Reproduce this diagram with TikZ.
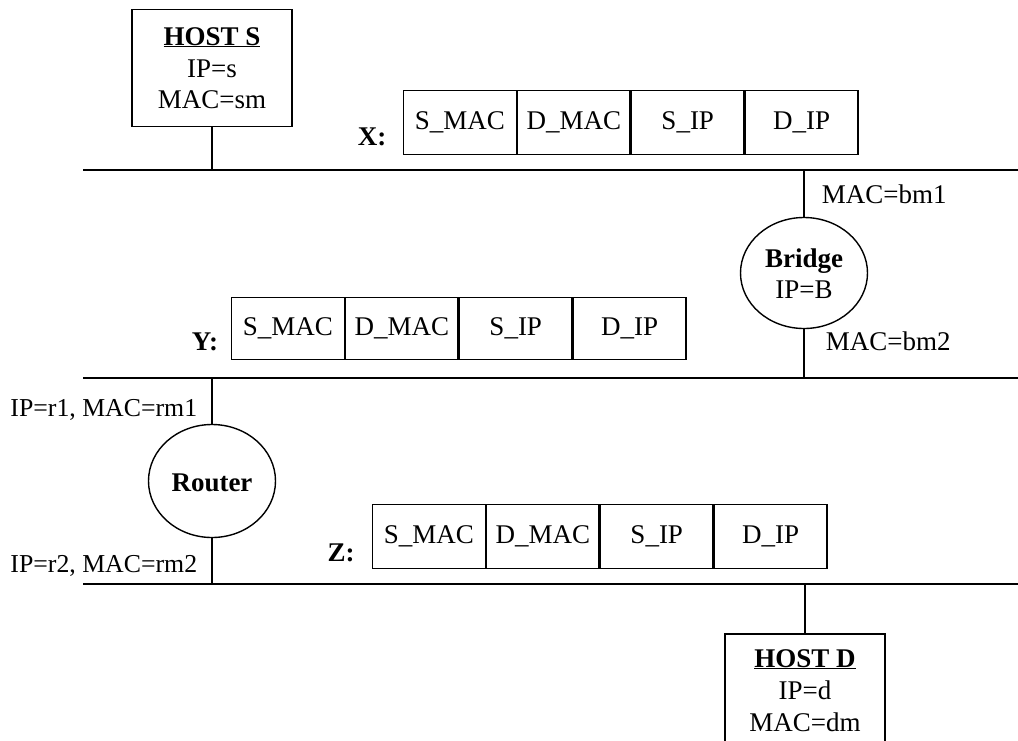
\documentclass[tikz,border=0pt]{standalone}
\usepackage{fontspec}
\setmainfont{Liberation Serif}
\usetikzlibrary{shapes.geometric}
\begin{document}
\begin{tikzpicture}[x=1pt,y=-1pt,line width=1.6pt,
  every node/.style={font=\fontsize{27}{31}\selectfont},
  cell/.style={draw,line width=1.4pt,minimum width=112.5pt,anchor=north west,inner sep=0pt},
  hostbox/.style={draw,line width=1.6pt,minimum width=160pt,inner sep=0pt},
  txt/.style={inner sep=0pt,anchor=base},
  small/.style={font=\fontsize{25.8}{30}\selectfont},
  dev/.style={draw,ellipse,line width=1.4pt,minimum width=127pt,minimum height=111pt,inner sep=0pt},
  wire/.style={line width=1.6pt}]
\clip (0,0) rectangle (1018,740);
\useasboundingbox (0,0) rectangle (1018,740);

% LAN segments
\coordinate (l1a) at (83,170);  \coordinate (l1b) at (1018,170);
\coordinate (l2a) at (83,378);  \coordinate (l2b) at (1018,378);
\coordinate (l3a) at (83,584);  \coordinate (l3b) at (1018,584);
\draw[wire] (l1a) -- (l1b);
\draw[wire] (l2a) -- (l2b);
\draw[wire] (l3a) -- (l3b);

% Host S
\node[hostbox,minimum height=117pt] (hs) at (212,68) {};
\node[txt] (hs1) at (212,45) {\textbf{\underline{HOST S}}};
\node[txt] (hs2) at (212,77) {IP=s};
\node[txt] (hs3) at (212,108) {MAC=sm};
\coordinate (hsb) at (212,170);
\draw[wire] (hs.south) -- (hsb);

% Host D (runs past the lower edge)
\node[hostbox,minimum height=140pt,anchor=north] (hd) at (805,633) {};
\node[txt] (hd1) at (805,667) {\textbf{\underline{HOST D}}};
\node[txt] (hd2) at (805,699) {IP=d};
\node[txt] (hd3) at (805,731) {MAC=dm};
\coordinate (hdt0) at (805,584);
\draw[wire] (hdt0) -- (hd.north);

% Bridge
\node[dev] (br) at (804,273) {};
\node[txt] (brt) at (804,267) {\textbf{Bridge}};
\node[txt] (brip) at (804,298) {IP=B};
\coordinate (br1) at (804,170);
\coordinate (br2) at (804,378);
\draw[wire] (br1) -- (br.north);
\draw[wire] (br.south) -- (br2);
\node[txt,anchor=base west] (bm1) at (821,203) {MAC=bm1};
\node[txt,anchor=base west] (bm2) at (825,350) {MAC=bm2};

% Router
\node[dev,minimum height=113pt] (rt) at (212,481) {};
\node[txt] (rtt) at (212,491) {\textbf{Router}};
\coordinate (rt1) at (212,378);
\coordinate (rt2) at (212,584);
\draw[wire] (rt1) -- (rt.north);
\draw[wire] (rt.south) -- (rt2);
\node[txt,small,anchor=base east] (rm1) at (198,416) {IP=r1, MAC=rm1};
\node[txt,small,anchor=base east] (rm2) at (198,572) {IP=r2, MAC=rm2};

% Frame X
\node[txt] (xl) at (372,145) {\textbf{X:}};
\node[cell,minimum height=64pt] (x1) at (403,90) {S\_MAC};
\node[cell,minimum height=64pt] (x2) at (x1.north east) {D\_MAC};
\node[cell,minimum height=64pt] (x3) at (x2.north east) {S\_IP};
\node[cell,minimum height=64pt] (x4) at (x3.north east) {D\_IP};

% Frame Y
\node[txt] (yl) at (205,350) {\textbf{Y:}};
\node[cell,minimum height=62pt] (y1) at (231,297) {S\_MAC};
\node[cell,minimum height=62pt] (y2) at (y1.north east) {D\_MAC};
\node[cell,minimum height=62pt] (y3) at (y2.north east) {S\_IP};
\node[cell,minimum height=62pt] (y4) at (y3.north east) {D\_IP};

% Frame Z
\node[txt] (zl) at (341,561) {\textbf{Z:}};
\node[cell,minimum height=64pt] (z1) at (372,504) {S\_MAC};
\node[cell,minimum height=64pt] (z2) at (z1.north east) {D\_MAC};
\node[cell,minimum height=64pt] (z3) at (z2.north east) {S\_IP};
\node[cell,minimum height=64pt] (z4) at (z3.north east) {D\_IP};
\end{tikzpicture}
\end{document}
